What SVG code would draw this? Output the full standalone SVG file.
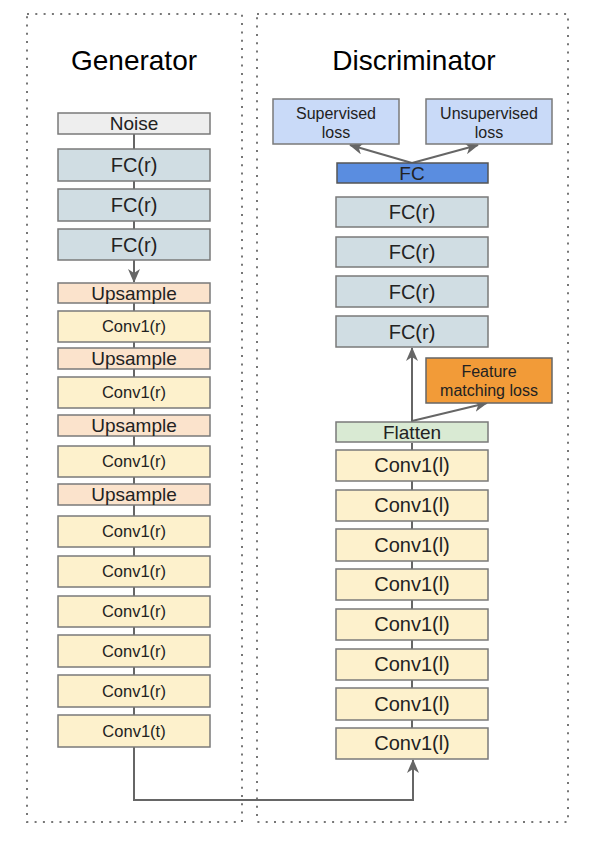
<svg xmlns="http://www.w3.org/2000/svg" width="589" height="844" viewBox="0 0 589 844">
<style>
.frame{fill:none;stroke:#777;stroke-width:2;stroke-dasharray:2 6.3}
.box{stroke:#7a7a7a;stroke-width:1.5}
.noise{fill:#eeeeee}
.fcr{fill:#d0dde3}
.up{fill:#fbe3cc}
.conv{fill:#fdf1cc}
.flat{fill:#d9ead3}
.fc{fill:#5a8de0;stroke:#555}
.loss{fill:#c9daf8}
.fm{fill:#f29b38;stroke:#666}
text{font-family:"Liberation Sans",Arial,sans-serif;fill:#222;text-anchor:middle}
.title{font-size:28px;fill:#000}
.t20{font-size:20px}
.t19{font-size:19px}
.t17{font-size:16.5px}
.t16{font-size:16px}
.con{fill:none;stroke:#666;stroke-width:2}
</style>
<defs>
<marker id="arr" markerUnits="userSpaceOnUse" markerWidth="14" markerHeight="12" viewBox="0 0 14 12" refX="13" refY="6" orient="auto">
<path d="M0,0 L14,6 L0,12 L4,6 Z" fill="#666"/>
</marker>
</defs>
<rect width="589" height="844" fill="#fff"/>
<g id="frames">
<rect class="frame" x="27" y="14" width="215" height="808"/>
<rect class="frame" x="257" y="14" width="311" height="808"/>
<text class="title" x="134" y="70">Generator</text>
<text class="title" x="414" y="70">Discriminator</text>
</g>
<g id="connectors">
<path class="con" d="M134,134 V149 M134,181 V189 M134,221 V229"/>
<path class="con" d="M134,260 V282" marker-end="url(#arr)"/>
<path class="con" d="M134,303 V311 M134,342 V348 M134,369 V377 M134,408 V415 M134,436 V446 M134,477 V484 M134,505 V516 M134,547 V556 M134,587 V596 M134,627 V635 M134,667 V675 M134,707 V715"/>
<path class="con" d="M134,747 V800 H413 V760" marker-end="url(#arr)"/>
<path class="con" d="M412,481 V490 M412,521 V529 M412,561 V569 M412,600 V609 M412,640 V649 M412,680 V688 M412,720 V728 M412,443 V450"/>
<path class="con" d="M412,422 V348" marker-end="url(#arr)"/>
<path class="con" d="M412,421 L487,403" marker-end="url(#arr)"/>
<path class="con" d="M412,163 L350,145" marker-end="url(#arr)"/>
<path class="con" d="M412,163 L478,145" marker-end="url(#arr)"/>
</g>
<g id="gen-noise"><rect class="box noise" x="58" y="113" width="152" height="21"/><text class="t19" x="134" y="130">Noise</text></g>
<g id="gen-fc1"><rect class="box fcr" x="58" y="149" width="152" height="32"/><text class="t20" x="134" y="172">FC(r)</text></g>
<g id="gen-fc2"><rect class="box fcr" x="58" y="189" width="152" height="32"/><text class="t20" x="134" y="212">FC(r)</text></g>
<g id="gen-fc3"><rect class="box fcr" x="58" y="229" width="152" height="31"/><text class="t20" x="134" y="252">FC(r)</text></g>
<g id="gen-up1"><rect class="box up" x="58" y="283" width="152" height="20"/><text class="t19" x="134" y="300">Upsample</text></g>
<g id="gen-conv1"><rect class="box conv" x="58" y="311" width="152" height="31"/><text class="t17" x="134" y="332">Conv1(r)</text></g>
<g id="gen-up2"><rect class="box up" x="58" y="348" width="152" height="21"/><text class="t19" x="134" y="365">Upsample</text></g>
<g id="gen-conv2"><rect class="box conv" x="58" y="377" width="152" height="31"/><text class="t17" x="134" y="398">Conv1(r)</text></g>
<g id="gen-up3"><rect class="box up" x="58" y="415" width="152" height="21"/><text class="t19" x="134" y="432">Upsample</text></g>
<g id="gen-conv3"><rect class="box conv" x="58" y="446" width="152" height="31"/><text class="t17" x="134" y="467">Conv1(r)</text></g>
<g id="gen-up4"><rect class="box up" x="58" y="484" width="152" height="21"/><text class="t19" x="134" y="501">Upsample</text></g>
<g id="gen-conv4"><rect class="box conv" x="58" y="516" width="152" height="31"/><text class="t17" x="134" y="537">Conv1(r)</text></g>
<g id="gen-conv5"><rect class="box conv" x="58" y="556" width="152" height="31"/><text class="t17" x="134" y="577">Conv1(r)</text></g>
<g id="gen-conv6"><rect class="box conv" x="58" y="596" width="152" height="31"/><text class="t17" x="134" y="617">Conv1(r)</text></g>
<g id="gen-conv7"><rect class="box conv" x="58" y="635" width="152" height="32"/><text class="t17" x="134" y="657">Conv1(r)</text></g>
<g id="gen-conv8"><rect class="box conv" x="58" y="675" width="152" height="32"/><text class="t17" x="134" y="697">Conv1(r)</text></g>
<g id="gen-conv9"><rect class="box conv" x="58" y="715" width="152" height="32"/><text class="t17" x="134" y="737">Conv1(t)</text></g>

<g id="dis-sup"><rect class="box loss" x="273" y="99" width="126" height="45"/><text class="t16" x="336" y="119">Supervised</text><text class="t16" x="336" y="138">loss</text></g>
<g id="dis-unsup"><rect class="box loss" x="426" y="99" width="126" height="45"/><text class="t16" x="489" y="119">Unsupervised</text><text class="t16" x="489" y="138">loss</text></g>
<g id="dis-fc"><rect class="box fc" x="337" y="163" width="151" height="20"/><text class="t19" x="412" y="180">FC</text></g>
<g id="dis-fc1"><rect class="box fcr" x="336" y="197" width="152" height="30"/><text class="t20" x="412" y="219">FC(r)</text></g>
<g id="dis-fc2"><rect class="box fcr" x="336" y="237" width="152" height="30"/><text class="t20" x="412" y="259">FC(r)</text></g>
<g id="dis-fc3"><rect class="box fcr" x="336" y="276" width="152" height="31"/><text class="t20" x="412" y="299">FC(r)</text></g>
<g id="dis-fc4"><rect class="box fcr" x="336" y="316" width="152" height="31"/><text class="t20" x="412" y="339">FC(r)</text></g>
<g id="dis-fm"><rect class="box fm" x="426" y="358" width="126" height="45"/><text class="t16" x="489" y="377">Feature</text><text class="t16" x="489" y="396">matching loss</text></g>
<g id="dis-flatten"><rect class="box flat" x="336" y="422" width="152" height="20"/><text class="t19" x="412" y="439">Flatten</text></g>
<g id="dis-conv1"><rect class="box conv" x="336" y="450" width="152" height="31"/><text class="t20" x="412" y="472">Conv1(l)</text></g>
<g id="dis-conv2"><rect class="box conv" x="336" y="490" width="152" height="31"/><text class="t20" x="412" y="512">Conv1(l)</text></g>
<g id="dis-conv3"><rect class="box conv" x="336" y="529" width="152" height="32"/><text class="t20" x="412" y="552">Conv1(l)</text></g>
<g id="dis-conv4"><rect class="box conv" x="336" y="569" width="152" height="31"/><text class="t20" x="412" y="591">Conv1(l)</text></g>
<g id="dis-conv5"><rect class="box conv" x="336" y="609" width="152" height="31"/><text class="t20" x="412" y="631">Conv1(l)</text></g>
<g id="dis-conv6"><rect class="box conv" x="336" y="649" width="152" height="31"/><text class="t20" x="412" y="671">Conv1(l)</text></g>
<g id="dis-conv7"><rect class="box conv" x="336" y="688" width="152" height="32"/><text class="t20" x="412" y="711">Conv1(l)</text></g>
<g id="dis-conv8"><rect class="box conv" x="336" y="728" width="152" height="31"/><text class="t20" x="412" y="750">Conv1(l)</text></g>
</svg>
